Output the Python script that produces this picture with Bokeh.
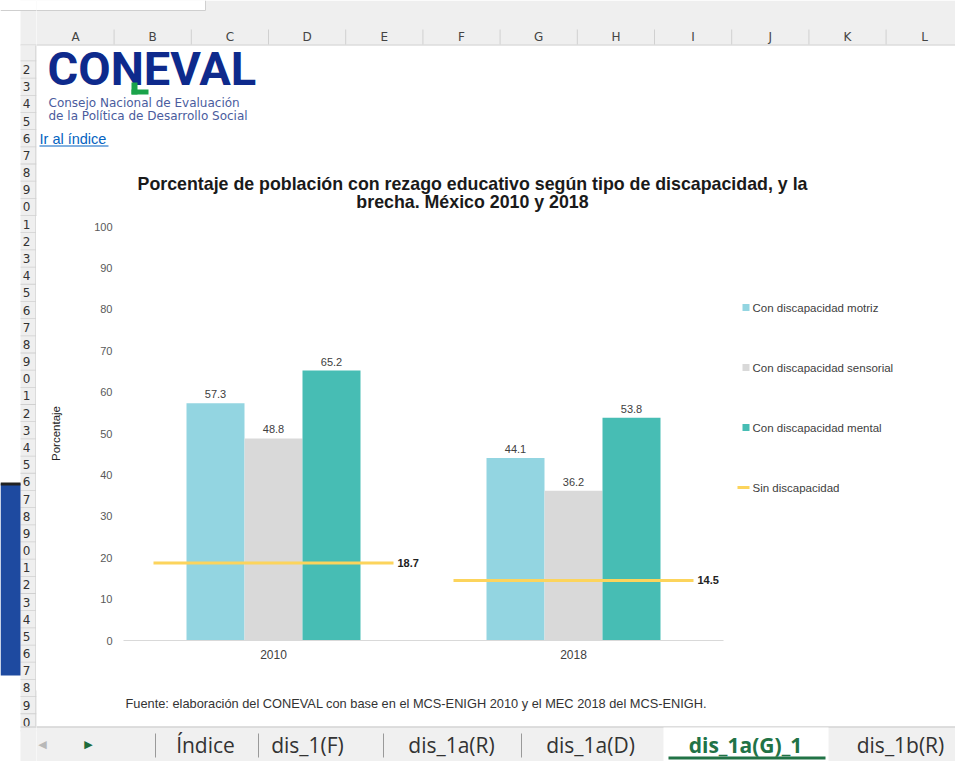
from bokeh.plotting import figure
from bokeh.models import ColumnDataSource, Range1d, FixedTicker, LabelSet
from bokeh.layouts import column, row
from bokeh.core.properties import value
from bokeh.embed import file_html
from bokeh.resources import INLINE

# ---------------- data ----------------
years = ["2010", "2018"]
motriz = [57.3, 44.1]
sensorial = [48.8, 36.2]
mental = [65.2, 53.8]
sin_discapacidad = [18.7, 14.5]

series_names = ["Con discapacidad motriz", "Con discapacidad sensorial",
                "Con discapacidad mental", "Sin discapacidad"]
y_ticks = [0, 10, 20, 30, 40, 50, 60, 70, 80, 90, 100]

title_lines = ["Porcentaje de población con rezago educativo según tipo de discapacidad, y la",
               "brecha. México 2010 y 2018"]
source_note = "Fuente: elaboración del CONEVAL  con base en el MCS-ENIGH 2010 y el MEC 2018 del MCS-ENIGH."
col_letters = ["A", "B", "C", "D", "E", "F", "G", "H", "I", "J", "K", "L"]
sheet_tabs = ["Índice", "dis_1(F)", "dis_1a(R)", "dis_1a(D)", "dis_1a(G)_1", "dis_1b(R)"]
active_tab = "dis_1a(G)_1"
row_numbers = list(range(1, 41))

# ---------------- colours / fonts ----------------
C_MOT = "#93D5E1"
C_SEN = "#D9D9D9"
C_MEN = "#47BDB4"
C_SIN = "#FCD45C"
FONT = "Liberation Sans"

# page layout (pixels)
PW, PH = 955, 761
TOP_H = 216          # top strip: page y 0..216
MID_B = 690          # middle strip: page y 216..690
LEFT_W = 36          # left strip: page x 0..36 (full height)
MAIN_R = 735         # main chart: page x 36..735
FL, FR, FT, FB = 123, 723, 226, 640   # plot frame in page pixels

BOUNDS = {}


def chrome_fig(x0, x1, y0, y1, bt=0, bb=0):
    f = figure(width=x1 - x0, height=y1 - y0, output_backend="svg", toolbar_location=None,
               x_range=Range1d(x0, x1), y_range=Range1d(y1 - bb, y0 + bt),
               x_axis_type=None, y_axis_type=None,
               min_border_left=0, min_border_right=0, min_border_top=bt, min_border_bottom=bb)
    f.outline_line_color = None
    f.xgrid.visible = False
    f.ygrid.visible = False
    f.background_fill_color = "white"
    f.border_fill_color = "white"
    BOUNDS[id(f)] = (x0, x1, y0 + bt, y1 - bb)
    return f


def rect(f, x0, y0, x1, y1, color):
    bx0, bx1, by0, by1 = BOUNDS[id(f)]
    if x1 < bx0 or x0 > bx1 or y1 < by0 or y0 > by1:
        return
    f.quad(left=[x0], right=[x1], top=[y0], bottom=[y1], fill_color=color, line_color=None)


def txt(f, X, Y, text, size=11.0, color="#404040", align="left", baseline="middle",
        bold=False, font=FONT):
    bx0, bx1, by0, by1 = BOUNDS[id(f)]
    if not (bx0 <= X <= bx1 and by0 <= Y <= by1):
        return
    f.text(x=[X], y=[Y], text=[text], text_font=value(font), text_font_size=value(f"{size}px"),
           text_color=color, text_align=align, text_baseline=baseline,
           text_font_style="bold" if bold else "normal")


def draw_chrome(f):
    # top bars
    rect(f, 20, 0, 960, 45, "#EFEFEF")
    rect(f, 0, 0, 205, 10, "#FFFFFF")
    rect(f, 0, 9.5, 205, 10.5, "#CFCFCF")
    rect(f, 204.5, 0, 205.5, 10, "#CFCFCF")
    rect(f, 20, 44, 960, 45, "#D4D4D4")
    col_w = 77.2
    for i, letter in enumerate(col_letters):
        cx = 75 + i * col_w
        txt(f, cx, 36, letter, size=12, color="#444444", align="center", font="DejaVu Sans")
        rect(f, cx + col_w / 2 - 0.5, 29, cx + col_w / 2 + 0.5, 44, "#D0D0D0")
    # row headers
    rect(f, 20, 45, 36, 726, "#EFEFEF")
    rect(f, 35, 45, 36, 726, "#C8C8C8")
    for r in row_numbers:
        ry = 69 + (r - 2) * 17.18
        if r > 1:
            txt(f, 26, ry, str(r % 10), size=12, color="#333333", align="center",
                font="DejaVu Sans")
        rect(f, 20, ry + 8.2, 36, ry + 9.0, "#D0D0D0")
    # blue overlay on the left
    rect(f, 0, 483, 20, 675, "#1E4AA0")
    rect(f, 0, 482, 20, 485, "#222222")
    # bottom tab bar
    rect(f, 20, 726, 960, 770, "#F0F0F0")
    rect(f, 20, 726, 960, 727, "#C6C6C6")
    rect(f, 663, 727, 828, 770, "#FFFFFF")
    rect(f, 668, 756, 825, 759, "#217346")
    for sx in [155, 258, 383, 521]:
        rect(f, sx - 0.5, 733, sx + 0.5, 757, "#9A9A9A")
    txt(f, 42, 744, "◀", size=11, color="#B8B8B8", align="center", font="DejaVu Sans")
    txt(f, 88, 744, "▶", size=11, color="#1E6B3A", align="center", font="DejaVu Sans")
    tab_x = [205, 307, 451, 590, 745, 900]
    for tx, t in zip(tab_x, sheet_tabs):
        act = t == active_tab
        txt(f, tx, 744, t, size=21, color="#217346" if act else "#333333", align="center",
            bold=act, font="Open Sans")


# ---------------- left strip (full height) ----------------
left = chrome_fig(0, LEFT_W, 0, PH)
draw_chrome(left)

# ---------------- top strip ----------------
top = chrome_fig(LEFT_W, PW, 0, TOP_H)
draw_chrome(top)
txt(top, 47, 68, "CONEVAL", size=47, color="#0E2A8C", baseline="middle", bold=True,
    font="Roboto")
rect(top, 131, 82, 137, 94, "#1BA34A")
rect(top, 131, 89, 148, 94, "#1BA34A")
txt(top, 48, 102, "Consejo Nacional de Evaluación", size=12, color="#4A5C9E",
    font="DejaVu Sans")
txt(top, 48, 115, "de la Política de Desarrollo Social", size=12, color="#4A5C9E",
    font="DejaVu Sans")
txt(top, 39, 138, "Ir al índice", size=14.5, color="#0563C1")
rect(top, 39, 145, 108, 146, "#0563C1")
txt(top, 472, 183, title_lines[0], size=17.8, color="#1A1A1A", align="center", bold=True)
txt(top, 472, 201, title_lines[1], size=17.8, color="#1A1A1A", align="center", bold=True)

# ---------------- main chart ----------------
p = figure(width=MAIN_R - LEFT_W, height=MID_B - TOP_H, output_backend="svg",
           toolbar_location=None, x_range=Range1d(0, 2), y_range=Range1d(0, 100),
           min_border_left=FL - LEFT_W, min_border_right=MAIN_R - FR,
           min_border_top=FT - TOP_H, min_border_bottom=MID_B - FB)
p.outline_line_color = None
p.xgrid.visible = False
p.ygrid.visible = False
p.background_fill_color = "white"
p.border_fill_color = "white"

centers = [0.5, 1.5]
bw = 58 / 300
src = ColumnDataSource(dict(
    year=years,
    x_mot=[c - bw for c in centers], x_sen=centers, x_men=[c + bw for c in centers],
    mot=motriz, sen=sensorial, men=mental, sin=sin_discapacidad,
    mot_t=[f"{v:.1f}" for v in motriz], sen_t=[f"{v:.1f}" for v in sensorial],
    men_t=[f"{v:.1f}" for v in mental], sin_t=[f"{v:.1f}" for v in sin_discapacidad],
    x0=[c - 0.40 for c in centers], x1=[c + 0.40 for c in centers],
))

p.vbar(x="x_mot", top="mot", width=bw, bottom=0, source=src, fill_color=C_MOT, line_color=None)
p.vbar(x="x_sen", top="sen", width=bw, bottom=0, source=src, fill_color=C_SEN, line_color=None)
p.vbar(x="x_men", top="men", width=bw, bottom=0, source=src, fill_color=C_MEN, line_color=None)
p.segment(x0="x0", x1="x1", y0="sin", y1="sin", source=src, line_color=C_SIN, line_width=3)

for xc, yc, tc in [("x_mot", "mot", "mot_t"), ("x_sen", "sen", "sen_t"), ("x_men", "men", "men_t")]:
    p.add_layout(LabelSet(x=xc, y=yc, text=tc, source=src, text_align="center",
                          text_baseline="bottom", y_offset=5, text_font=value(FONT),
                          text_font_size=value("11px"), text_color="#404040"))
p.add_layout(LabelSet(x="x1", y="sin", text="sin_t", source=src, text_align="left",
                      text_baseline="middle", x_offset=4, text_font=value(FONT),
                      text_font_size=value("11px"), text_font_style="bold",
                      text_color="#222222"))

p.yaxis.ticker = FixedTicker(ticks=y_ticks)
p.yaxis.axis_line_color = None
p.yaxis.major_tick_line_color = None
p.yaxis.minor_tick_line_color = None
p.yaxis.major_tick_out = 0
p.yaxis.major_label_standoff = 11
p.yaxis.major_label_text_font = FONT
p.yaxis.major_label_text_font_size = "11px"
p.yaxis.major_label_text_color = "#595959"
p.yaxis.axis_label = "Porcentaje"
p.yaxis.axis_label_text_font = FONT
p.yaxis.axis_label_text_font_size = "11.5px"
p.yaxis.axis_label_text_font_style = "normal"
p.yaxis.axis_label_text_color = "#222222"
p.yaxis.axis_label_standoff = 29

p.xaxis.ticker = FixedTicker(ticks=centers)
p.xaxis.major_label_overrides = {c: y for c, y in zip(centers, years)}
p.xaxis.axis_line_color = "#D9D9D9"
p.xaxis.major_tick_line_color = None
p.xaxis.minor_tick_line_color = None
p.xaxis.major_tick_out = 0
p.xaxis.major_label_standoff = 9
p.xaxis.major_label_text_font = FONT
p.xaxis.major_label_text_font_size = "12px"
p.xaxis.major_label_text_color = "#404040"

# ---------------- right strip (legend) ----------------
right = chrome_fig(MAIN_R, PW, TOP_H, MID_B, bt=FT - TOP_H, bb=MID_B - FB)
leg_y = [307, 367, 427, 487]
for yy, col in zip(leg_y[:3], [C_MOT, C_SEN, C_MEN]):
    rect(right, 742, yy - 3.5, 749, yy + 3.5, col)
rect(right, 737, leg_y[3] - 1.5, 749, leg_y[3] + 1.5, C_SIN)
for yy, name in zip(leg_y, series_names):
    txt(right, 752, yy, name, size=11.5, color="#404040")

# ---------------- bottom strip ----------------
bottom = chrome_fig(LEFT_W, PW, MID_B, PH)
draw_chrome(bottom)
txt(bottom, 125, 703, source_note, size=12.8, color="#333333")

layout = row(left, column(top, row(p, right), bottom))
open("out.html", "w").write(file_html(layout, INLINE))
